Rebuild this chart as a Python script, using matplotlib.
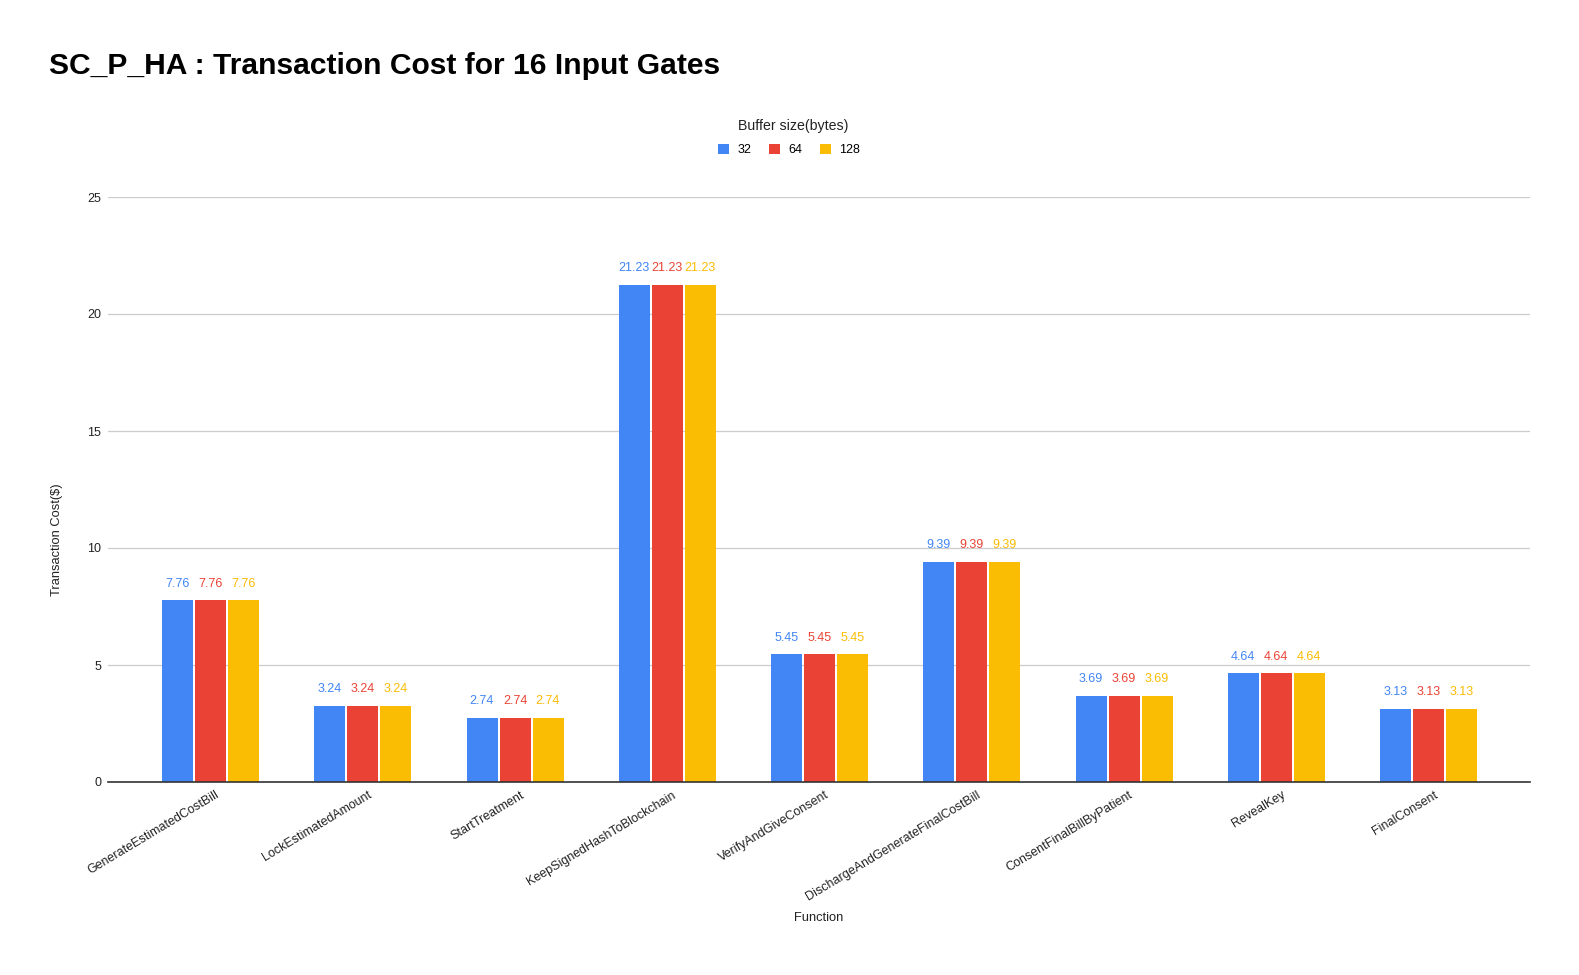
import matplotlib
matplotlib.use("Agg")
import matplotlib.pyplot as plt
import matplotlib.transforms as mtransforms
import numpy as np

plt.rcParams['font.family'] = ['Liberation Sans', 'DejaVu Sans']

functions = ["GenerateEstimatedCostBill", "LockEstimatedAmount", "StartTreatment",
             "KeepSignedHashToBlockchain", "VerifyAndGiveConsent",
             "DischargeAndGenerateFinalCostBill", "ConsentFinalBillByPatient",
             "RevealKey", "FinalConsent"]
series_names = ["32", "64", "128"]
cost_32 = [7.76, 3.24, 2.74, 21.23, 5.45, 9.39, 3.69, 4.64, 3.13]
cost_64 = [7.76, 3.24, 2.74, 21.23, 5.45, 9.39, 3.69, 4.64, 3.13]
cost_128 = [7.76, 3.24, 2.74, 21.23, 5.45, 9.39, 3.69, 4.64, 3.13]
y_ticks = [0, 5, 10, 15, 20, 25]

colors = ["#4285F4", "#EA4335", "#FBBC04"]
series = [cost_32, cost_64, cost_128]

W, H = 1579, 975
fig = plt.figure(figsize=(W/100, H/100), dpi=100)
ax = fig.add_axes([108/W, 1-782/H, (1530-108)/W, (782-197)/H])

x = np.arange(len(functions))
spacing = 152.25
step = 33/spacing
width = 31/spacing
for i, (vals, c, name) in enumerate(zip(series, colors, series_names)):
    pos = x + (i-1)*step
    ax.bar(pos, vals, width=width, color=c, label=name, zorder=3)
    for p, v in zip(pos, vals):
        ax.annotate(f"{v:.2f}", (p, v), xytext=(0, 10), textcoords='offset points',
                    ha='center', va='baseline', color=c, fontsize=9)

ax.set_xlim(-102.5/spacing, len(functions)-1+101.5/spacing)
ax.set_ylim(0, 25)
ax.set_yticks(y_ticks)
ax.set_yticklabels([str(t) for t in y_ticks], fontsize=9, color='#222222')
ax.tick_params(axis='y', length=0, pad=5)
ax.tick_params(axis='x', length=0, pad=5)
ax.grid(axis='y', color='#cccccc', linewidth=0.9, zorder=0)
for s in ['top', 'right', 'left']:
    ax.spines[s].set_visible(False)
ax.spines['bottom'].set_color('#333333')
ax.spines['bottom'].set_linewidth(1.2)
ax.spines['bottom'].set_zorder(4)

ax.set_xticks(x)
ax.set_xticklabels(functions, rotation=31, ha='right', va='top', rotation_mode='anchor',
                   fontsize=9, color='#222222')
offset = mtransforms.ScaledTranslation(5/100, 0, fig.dpi_scale_trans)
for lab in ax.get_xticklabels():
    lab.set_transform(lab.get_transform() + offset)

fig.text(49/W, 1-66.5/H, "SC_P_HA : Transaction Cost for 16 Input Gates",
         fontsize=21.6, fontweight='bold', va='center', ha='left', color='#000000')
fig.text(57/W, 1-540/H, "Transaction Cost($)", rotation=90, fontsize=9.3,
         va='center', ha='center', color='#222222')
fig.text(819/W, 1-918/H, "Function", fontsize=9.3, va='center', ha='center',
         color='#222222')

fig.text(793.5/W, 1-126/H, "Buffer size(bytes)", fontsize=10.2, va='center',
         ha='center', color='#222222')
leg = ax.legend(loc='center', bbox_to_anchor=(789/W, 1-150/H),
                bbox_transform=fig.transFigure, ncol=3, frameon=False,
                fontsize=9, borderpad=0,
                handlelength=0.88, handleheight=0.88, handletextpad=0.72,
                columnspacing=1.36)

fig.savefig("out.png", dpi=100)
